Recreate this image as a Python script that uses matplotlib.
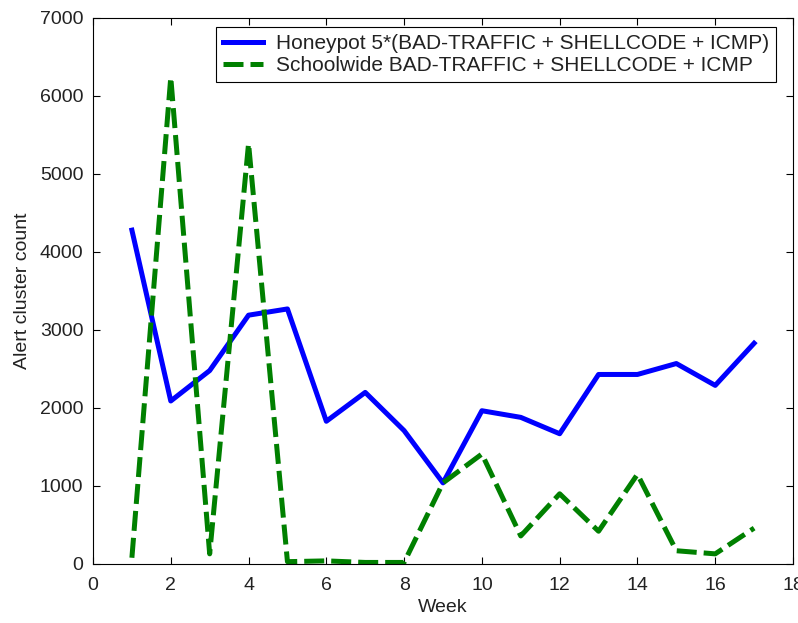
import matplotlib
matplotlib.use('Agg')
import matplotlib.pyplot as plt

plt.rcParams['font.family'] = ['Liberation Sans', 'DejaVu Sans']

weeks = list(range(1, 18))
honeypot = [4280, 2090, 2480, 3190, 3270, 1830, 2200, 1710, 1040, 1965, 1880, 1670, 2430, 2430, 2570, 2290, 2830]
schoolwide = [80, 6240, 130, 5390, 30, 40, 20, 20, 1040, 1410, 360, 900, 420, 1150, 170, 130, 460]

fig = plt.figure(figsize=(7.98, 6.23), dpi=100)
# axes box: x 93..793 px, y 18..564 px
ax = fig.add_axes([93 / 798, (623 - 564) / 623, 700 / 798, 546 / 623])

ax.plot(weeks, honeypot, color='#0000ff', lw=3.6, label='Honeypot 5*(BAD-TRAFFIC + SHELLCODE + ICMP)')
ax.plot(weeks, schoolwide, color='#008000', lw=3.6, linestyle='--', dashes=(4.0, 1.4),
        label='Schoolwide BAD-TRAFFIC + SHELLCODE + ICMP')

ax.set_xlim(0, 18)
ax.set_ylim(0, 7000)
ax.set_xticks(range(0, 19, 2))
ax.set_yticks(range(0, 7001, 1000))
ax.tick_params(direction='in', top=True, right=True, labelsize=14, length=5, width=0.8,
               labelcolor='#222222')
ax.tick_params(axis='x', pad=9)
ax.tick_params(axis='y', pad=7)
ax.set_xlabel('Week', fontsize=14, labelpad=4, color='#222222')
ax.set_ylabel('Alert cluster count', fontsize=14, labelpad=6, color='#222222')
for s in ax.spines.values():
    s.set_linewidth(0.8)

leg = ax.legend(loc='upper right', bbox_to_anchor=((776 - 93) / 700, (564 - 27) / 546),
                borderaxespad=0, fontsize=15, fancybox=False, framealpha=1,
                edgecolor='black', handlelength=1.9, handletextpad=0.6,
                labelspacing=0.12, borderpad=0.35)
leg.get_frame().set_linewidth(0.8)
for t in leg.get_texts():
    t.set_color('#222222')

fig.savefig('out.png', dpi=100)
